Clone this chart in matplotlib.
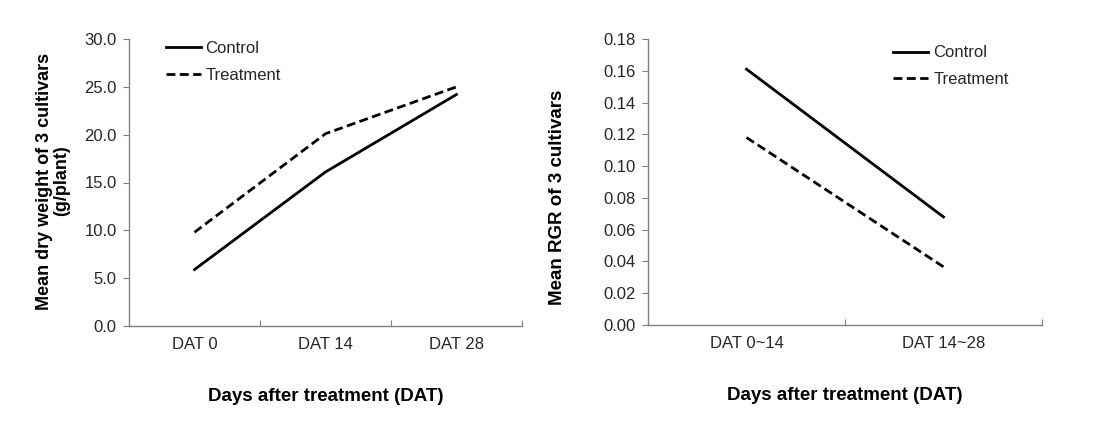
import matplotlib
matplotlib.use("Agg")
import matplotlib.pyplot as plt
from matplotlib.ticker import FixedLocator, NullFormatter

plt.rcParams['font.family'] = ['Liberation Sans', 'DejaVu Sans']

# left panel: dry weight
dw_days = ["DAT 0", "DAT 14", "DAT 28"]
dw_control = [5.9, 16.1, 24.2]
dw_treatment = [9.8, 20.1, 25.0]

# right panel: RGR
rgr_periods = ["DAT 0~14", "DAT 14~28"]
rgr_control = [0.161, 0.068]
rgr_treatment = [0.118, 0.0366]

spine_col = "#808080"
tick_col = "#262626"
dash = (0, (3.2, 1.6))

fig = plt.figure(figsize=(11.04, 4.22), dpi=100)
ax1 = fig.add_axes([129/1104, 1-326/422, 393/1104, 287/422])
ax2 = fig.add_axes([648/1104, 1-325/422, 394/1104, 286/422])


def style(ax, cats):
    n = len(cats)
    ax.set_xlim(-0.5, n - 0.5)
    for s in ["top", "right"]:
        ax.spines[s].set_visible(False)
    for s in ["left", "bottom"]:
        ax.spines[s].set_color(spine_col)
        ax.spines[s].set_linewidth(1.0)
    ax.xaxis.set_major_locator(FixedLocator([i + 0.5 for i in range(n)]))
    ax.xaxis.set_major_formatter(NullFormatter())
    ax.xaxis.set_minor_locator(FixedLocator(list(range(n))))
    ax.set_xticklabels(cats, minor=True)
    ax.tick_params(axis="x", which="major", direction="in", length=4, color=spine_col)
    ax.tick_params(axis="x", which="minor", length=0, pad=8, labelsize=12, labelcolor=tick_col)
    ax.tick_params(axis="y", direction="out", length=4, color=spine_col, labelsize=12,
                   labelcolor=tick_col, pad=5)
    ax.set_xlabel("Days after treatment (DAT)", fontsize=13.5, fontweight="bold", labelpad=26)


ax1.plot(range(len(dw_days)), dw_control, color="black", lw=2.0, label="Control")
ax1.plot(range(len(dw_days)), dw_treatment, color="black", lw=2.0, ls=dash, label="Treatment")
style(ax1, dw_days)
ax1.set_ylim(0, 30)
ax1.set_yticks([0, 5, 10, 15, 20, 25, 30])
ax1.set_yticklabels([f"{v:.1f}" for v in [0, 5, 10, 15, 20, 25, 30]])
ax1.set_ylabel("Mean dry weight of 3 cultivars\n(g/plant)", fontsize=13, fontweight="bold",
               linespacing=1.0)
ax1.yaxis.set_label_coords(-0.15, 0.505)
ax1.legend(loc="upper left", bbox_to_anchor=(0.055, 1.045), frameon=False, fontsize=12,
           handlelength=2.1, handletextpad=0.3, labelspacing=0.7, labelcolor=tick_col)

ax2.plot(range(len(rgr_periods)), rgr_control, color="black", lw=2.0, label="Control")
ax2.plot(range(len(rgr_periods)), rgr_treatment, color="black", lw=2.0, ls=dash, label="Treatment")
style(ax2, rgr_periods)
ax2.set_ylim(0, 0.18)
ticks = [0, 0.02, 0.04, 0.06, 0.08, 0.10, 0.12, 0.14, 0.16, 0.18]
ax2.set_yticks(ticks)
ax2.set_yticklabels([f"{v:.2f}" for v in ticks])
ax2.set_ylabel("Mean RGR of 3 cultivars", fontsize=13.5, fontweight="bold")
ax2.yaxis.set_label_coords(-0.208, 0.445)
ax2.legend(loc="upper left", bbox_to_anchor=(0.585, 1.03), frameon=False, fontsize=12,
           handlelength=2.1, handletextpad=0.3, labelspacing=0.7, labelcolor=tick_col)

fig.savefig("out.png", dpi=100)
